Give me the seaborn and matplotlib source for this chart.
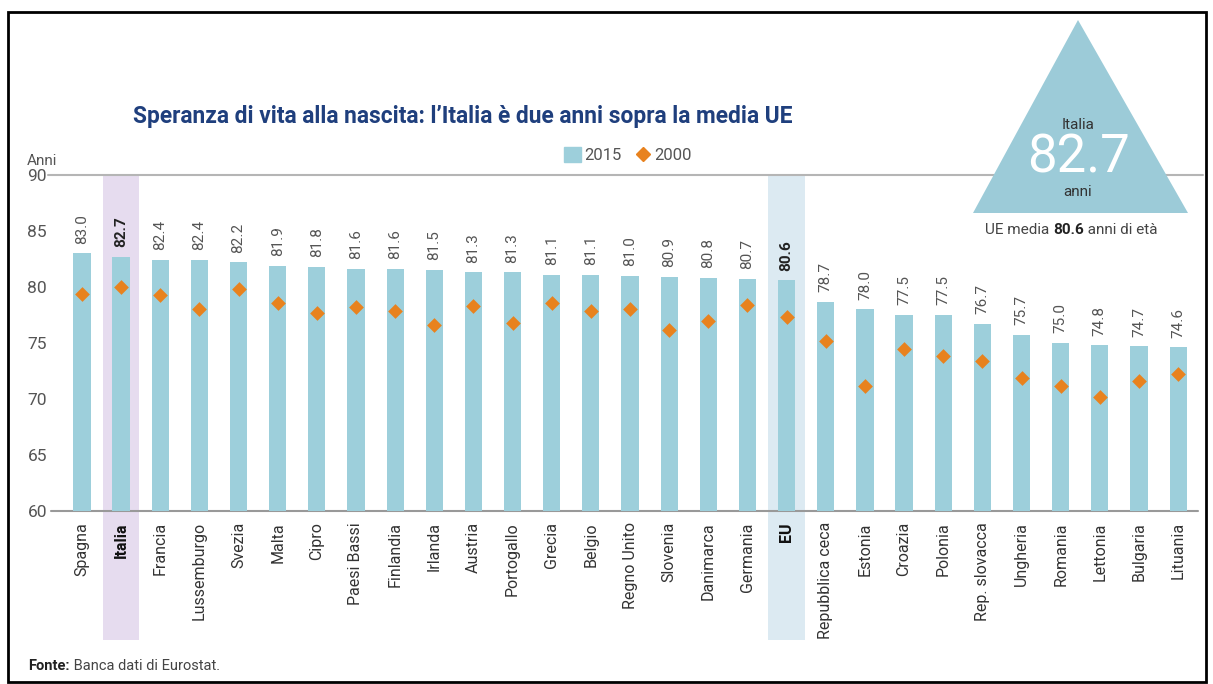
import numpy as np
import pandas as pd
import matplotlib.pyplot as plt
import seaborn as sns
from matplotlib.patches import Rectangle, Polygon, Patch
from matplotlib.lines import Line2D

countries = ['Spagna', 'Italia', 'Francia', 'Lussemburgo', 'Svezia', 'Malta', 'Cipro',
             'Paesi Bassi', 'Finlandia', 'Irlanda', 'Austria', 'Portogallo', 'Grecia',
             'Belgio', 'Regno Unito', 'Slovenia', 'Danimarca', 'Germania', 'EU',
             'Repubblica ceca', 'Estonia', 'Croazia', 'Polonia', 'Rep. slovacca',
             'Ungheria', 'Romania', 'Lettonia', 'Bulgaria', 'Lituania']
life_2015 = [83.0, 82.7, 82.4, 82.4, 82.2, 81.9, 81.8, 81.6, 81.6, 81.5, 81.3, 81.3, 81.1,
             81.1, 81.0, 80.9, 80.8, 80.7, 80.6, 78.7, 78.0, 77.5, 77.5, 76.7, 75.7,
             75.0, 74.8, 74.7, 74.6]
life_2000 = [79.4, 80.0, 79.3, 78.0, 79.8, 78.6, 77.7, 78.2, 77.9, 76.6, 78.3, 76.8, 78.6,
             77.9, 78.0, 76.2, 77.0, 78.4, 77.3, 75.2, 71.2, 74.5, 73.8, 73.4, 71.9,
             71.2, 70.2, 71.6, 72.2]
y_ticks = [60, 65, 70, 75, 80, 85, 90]
bold_labels = ['Italia', 'EU']

df = pd.DataFrame({'paese': countries, 'v2015': life_2015, 'v2000': life_2000})

BAR = '#9dcfdb'
ORANGE = '#e8821e'
GREY = '#555555'
LINE = '#b5b5b5'
W, H = 1213, 684

sns.set_style('white')
plt.rcParams['font.family'] = ['Roboto', 'DejaVu Sans']

fig = plt.figure(figsize=(12.13, 6.84), dpi=100)
ax = fig.add_axes([0.0514, 0.2529, 0.936, 0.4913])

# fasce evidenziate dietro Italia e EU
band_col = {'Italia': '#e6dcef', 'EU': '#dceaf2'}
for name, col in band_col.items():
    i = countries.index(name)
    ax.add_patch(Rectangle((i - 0.47, 48.5), 0.94, 41.5, color=col, lw=0,
                           clip_on=False, zorder=0))

sns.barplot(data=df, x='paese', y='v2015', color=BAR, width=0.44, saturation=1,
            linewidth=0, ax=ax, zorder=2)
sns.stripplot(data=df, x='paese', y='v2000', color=ORANGE, marker='D', size=7.5,
              jitter=False, ax=ax, zorder=3, linewidth=0)

for i, (name, v) in enumerate(zip(countries, life_2015)):
    ax.annotate(f'{v:.1f}', (i, v), xytext=(0, 7), textcoords='offset points',
                rotation=90, ha='center', va='bottom', fontsize=11,
                color='#222222' if name in bold_labels else GREY,
                fontweight='bold' if name in bold_labels else 'normal')

ax.set_ylim(60, 90)
ax.set_xlim(-0.5, len(countries) - 0.5)
ax.set_yticks(y_ticks)
ax.set_yticklabels([str(t) for t in y_ticks], fontsize=12.5, color=GREY)
ax.tick_params(axis='y', length=7, width=1, color='#999999', pad=4)
ax.tick_params(axis='x', length=0, pad=8)
ax.set_xticks(range(len(countries)))
ax.set_xticklabels(countries, rotation=90, fontsize=11.5, color='#333333')
for lab in ax.get_xticklabels():
    if lab.get_text() in bold_labels:
        lab.set_fontweight('bold')
        lab.set_color('#111111')
ax.set_xlabel('')
ax.set_ylabel('')
sns.despine(ax=ax, left=True, bottom=True)

ax.axhline(60, xmin=-0.01, xmax=1.0, color='#999999', lw=1.5, clip_on=False, zorder=1)
ax.axhline(90, xmin=-0.013, xmax=1.005, color=LINE, lw=1.5, clip_on=False, zorder=1)

ax.text(-0.031, 1.02, 'Anni', transform=ax.transAxes, fontsize=11, color=GREY,
        ha='left', va='bottom')

fig.text(133 / W, 1 - 116 / H,
         "Speranza di vita alla nascita: l\u2019Italia \u00e8 due anni sopra la media UE",
         fontsize=16.4, fontweight='bold', color='#1f3f7d', ha='left', va='center')

handles = [Patch(color=BAR, label='2015'),
           Line2D([], [], marker='D', color=ORANGE, lw=0, markersize=7, label='2000')]
fig.legend(handles=handles, loc='center', bbox_to_anchor=(628 / W, 1 - 155 / H),
           ncol=2, frameon=False, fontsize=12, handlelength=1.0, handleheight=1.0,
           handletextpad=0.2, columnspacing=0.8, labelcolor=GREY)

# triangolo con il dato dell'Italia
tri = Polygon([(1078 / W, 1 - 20 / H), (973 / W, 1 - 213 / H), (1188 / W, 1 - 213 / H)],
              closed=True, color='#9ccbd8', lw=0, transform=fig.transFigure, zorder=5)
fig.patches.append(tri)
fig.text(1078 / W, 1 - 125 / H, 'Italia', fontsize=11, color='#333333', ha='center',
         va='center', zorder=6)
fig.text(1078 / W, 1 - 158 / H, '82.7', fontsize=38, color='white', ha='center',
         va='center', zorder=6)
fig.text(1078 / W, 1 - 192 / H, 'anni', fontsize=11, color='#333333', ha='center',
         va='center', zorder=6)

t1 = fig.text(985 / W, 1 - 230 / H, 'UE media ', fontsize=11, color='#444444',
              ha='left', va='center')
t2 = fig.add_artist(plt.Annotation('80.6', xy=(1, 0.5), xycoords=t1, va='center',
                                   ha='left', fontsize=11, fontweight='bold',
                                   color='#222222'))
fig.add_artist(plt.Annotation(' anni di et\u00e0', xy=(1, 0.5), xycoords=t2, va='center',
                              ha='left', fontsize=11, color='#444444'))

f1 = fig.text(28 / W, 1 - 666 / H, 'Fonte:', fontsize=10.5, fontweight='bold',
              color='#222222', ha='left', va='center')
fig.add_artist(plt.Annotation(' Banca dati di Eurostat.', xy=(1, 0.5), xycoords=f1,
                              va='center', ha='left', fontsize=10.5, color='#444444'))

fig.patches.append(Rectangle((8 / W, 2 / H), 1198 / W, 670 / H, fill=False,
                             ec='black', lw=2, transform=fig.transFigure))

fig.savefig('out.png', dpi=100)
